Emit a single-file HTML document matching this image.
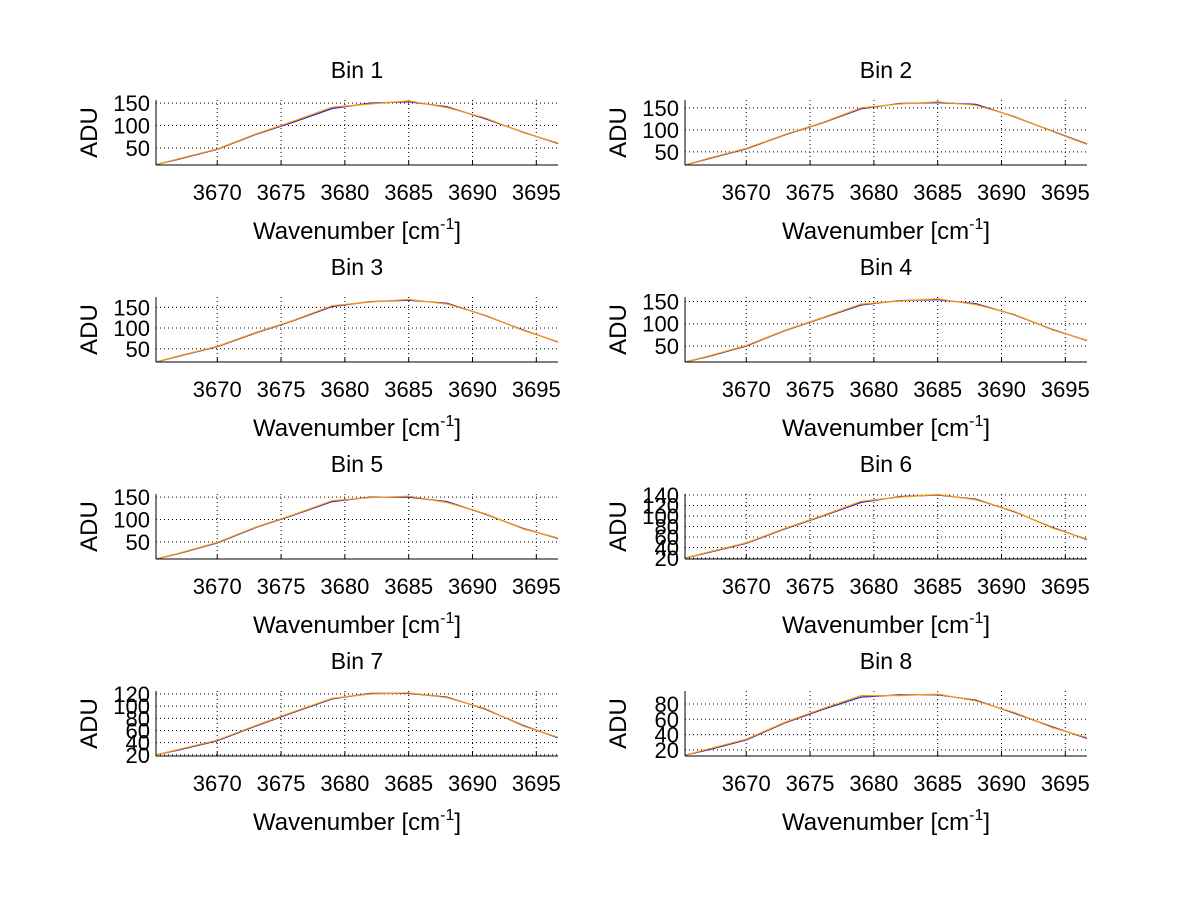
<!DOCTYPE html>
<html><head><meta charset="utf-8"><style>
html,body{margin:0;padding:0;background:#fff;}
svg{display:block;font-family:"Liberation Sans",sans-serif;}
</style></head><body>
<svg id="fig" width="1200" height="901" xmlns="http://www.w3.org/2000/svg"></svg>
<script>
const xs = [3665.2,3667,3670,3673,3676,3679,3682,3685,3688,3691,3694,3696.7];
const xTicks = [3670,3675,3680,3685,3690,3695];
const binTitles = ["Bin 1","Bin 2","Bin 3","Bin 4","Bin 5","Bin 6","Bin 7","Bin 8"];
const yMins = [12,20,18,14,12,18,18,12];
const yMaxs = [157,168,175,160,157,142,125,97];
const yTickSets = [[50,100,150],[50,100,150],[50,100,150],[50,100,150],[50,100,150],[20,40,60,80,100,120,140],[20,40,60,80,100,120],[20,40,60,80]];
const seriesA = [
 [13,25,47,80,108,138,150,153,142,115,85,60],
 [20,34,57,88,116,148,160,162,158,130,97,68],
 [18,32,55,88,118,152,164,167,160,130,95,66],
 [14,26,50,84,113,142,152,154,145,120,87,62],
 [12,24,48,82,110,140,150,150,140,112,80,58],
 [20,30,48,75,100,126,137,140,132,108,78,55],
 [20,28,43,67,90,112,121,121,115,95,68,48],
 [13,20,33,55,73,89,92,92,85,68,50,35]
];
const seriesB = [
 [13,26,48,81,110,141,148,155,140,117,84,61],
 [20,35,58,89,117,150,159,164,156,131,96,67],
 [18,33,56,89,119,154,163,169,158,131,94,67],
 [14,27,51,85,114,144,151,156,143,121,86,63],
 [12,25,49,83,111,142,149,152,138,113,79,59],
 [20,31,49,76,101,128,136,141,131,109,77,56],
 [20,29,44,68,91,113,120,122,114,96,67,49],
 [13,21,34,56,74,91,91,93,84,69,49,36]
];
const NS="http://www.w3.org/2000/svg";
const svg=document.getElementById('fig');
function mk(tag,attrs,parent){const e=document.createElementNS(NS,tag);for(const k in attrs)e.setAttribute(k,attrs[k]);(parent||svg).appendChild(e);return e;}
const XMIN=3665.2,XMAX=3696.7,W=402,H=65;
const lefts=[156,685], tops=[100,297,494,691];
for(let i=0;i<8;i++){
 const L=lefts[i%2],T=tops[Math.floor(i/2)];
 const g=mk('g',{});
 
 
 const sx=v=>L+(v-XMIN)/(XMAX-XMIN)*W;
 const sy=v=>T+H-(v-yMins[i])/(yMaxs[i]-yMins[i])*H;
 xTicks.forEach(t=>{const ln=mk('line',{x1:sx(t),x2:sx(t),y1:T,y2:T+H,stroke:'#000','stroke-width':1,'stroke-dasharray':'1,3'},g);
  
  mk('line',{x1:sx(t),x2:sx(t),y1:T+H,y2:T+H-4,stroke:'#000'},g);
  const tx=mk('text',{x:sx(t),y:T+H+35,'font-size':22,'text-anchor':'middle'},g);tx.textContent=t;
  });
 yTickSets[i].forEach(t=>{const ln=mk('line',{x1:L,x2:L+W,y1:sy(t),y2:sy(t),stroke:'#000','stroke-width':1,'stroke-dasharray':'1,3'},g);
  
  const tx=mk('text',{x:L-6,y:sy(t)+8,'font-size':22,'text-anchor':'end'},g);tx.textContent=t;
  });
 const colors=['#1f1fd0','#ff9900'];
 [seriesA[i],seriesB[i]].forEach((s,k)=>{
  const d=s.map((v,j)=>(j?'L':'M')+sx(xs[j]).toFixed(1)+','+sy(v).toFixed(1)).join(' ');
  const p=mk('path',{d:d,fill:'none',stroke:colors[k],'stroke-width':1.2},g);
  
 });
 mk('line',{x1:L,x2:L,y1:T,y2:T+H,stroke:'#000'},g);
 mk('line',{x1:L,x2:L+W,y1:T+H,y2:T+H,stroke:'#000'},g);
 const ti=mk('text',{x:L+W/2,y:T-22,'font-size':23,'text-anchor':'middle'},g);ti.textContent=binTitles[i];
 
 const yl=mk('text',{x:0,y:0,'font-size':24,'text-anchor':'middle',transform:`translate(${L-59},${T+H/2}) rotate(-90)`},g);yl.textContent='ADU';
 
 const xl=mk('text',{x:L+W/2,y:T+H+74,'font-size':24,'text-anchor':'middle'},g);
 
 xl.appendChild(document.createTextNode('Wavenumber [cm'));
 const sup=mk('tspan',{'font-size':16,dy:-10},xl);sup.textContent='-1';
 const cl=mk('tspan',{'font-size':24,dy:10},xl);cl.textContent=']';
}
</script>
</body></html>
